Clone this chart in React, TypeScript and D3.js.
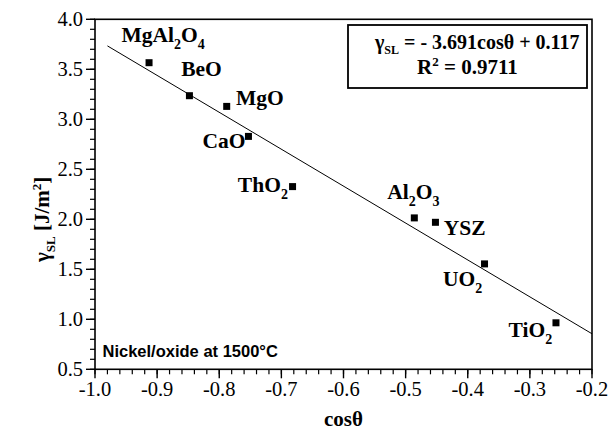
import React from "react";
import * as d3 from "d3";

const materials = ["MgAl2O4", "BeO", "MgO", "CaO", "ThO2", "Al2O3", "YSZ", "UO2", "TiO2"];
const cosTheta = [-0.913, -0.848, -0.788, -0.753, -0.682, -0.486, -0.452, -0.373, -0.258];
const gammaSL = [3.566, 3.236, 3.129, 2.829, 2.327, 2.014, 1.97, 1.554, 0.965];

const xTicks = [-1.0, -0.9, -0.8, -0.7, -0.6, -0.5, -0.4, -0.3, -0.2];
const yTicks = [0.5, 1.0, 1.5, 2.0, 2.5, 3.0, 3.5, 4.0];

const fitSlope = -3.691;
const fitIntercept = 0.117;
const fitRange = [-0.98, -0.2];

// label layout: offsets from the point (dx, dy baseline), anchor
const labelLayout: Record<string, { dx: number; dy: number; anchor: string }> = {
  MgAl2O4: { dx: -27.6, dy: -20.3, anchor: "start" },
  BeO: { dx: -8.3, dy: -19.3, anchor: "start" },
  MgO: { dx: 9.3, dy: -1.7, anchor: "start" },
  CaO: { dx: -3, dy: 11.6, anchor: "end" },
  ThO2: { dx: -54.7, dy: 5.7, anchor: "start" },
  Al2O3: { dx: -27, dy: -19, anchor: "start" },
  YSZ: { dx: 8.3, dy: 12.3, anchor: "start" },
  UO2: { dx: -41.6, dy: 21.7, anchor: "start" },
  TiO2: { dx: -47.4, dy: 13.7, anchor: "start" },
};

const SERIF = "'Liberation Serif', 'Times New Roman', serif";
const SANS = "'Liberation Sans', Arial, sans-serif";

function Chem({ name, x, y, anchor }: { name: string; x: number; y: number; anchor: string }) {
  const parts = name.match(/[A-Za-z]+|\d+/g) || [];
  const children: any[] = [];
  let sub = false;
  parts.forEach((p, i) => {
    if (/\d/.test(p)) {
      children.push(
        <tspan key={i} dy={sub ? 0 : 7} fontSize={14}>
          {p}
        </tspan>
      );
      sub = true;
    } else {
      children.push(
        <tspan key={i} dy={sub ? -7 : 0}>
          {p}
        </tspan>
      );
      sub = false;
    }
  });
  return (
    <text x={x} y={y} textAnchor={anchor as any} fontFamily={SERIF} fontWeight="bold" fontSize={21.5} fill="#000">
      {children}
    </text>
  );
}

export default function App() {
  const left = 95, right = 592, top = 19.3, bottom = 369.3;
  const x = d3.scaleLinear().domain([-1.0, -0.2]).range([left, right]);
  const y = d3.scaleLinear().domain([0.5, 4.0]).range([bottom, top]);

  const xMinor = d3.range(0, 41).map((i) => -1.0 + i * 0.02);
  const yMinor = d3.range(0, 36).map((i) => 0.5 + i * 0.1);

  const line = d3
    .line<number>()
    .x((d) => x(d))
    .y((d) => y(fitSlope * d + fitIntercept));

  return (
    <svg width={612} height={435} style={{ position: "absolute", left: 0, top: 0, background: "#fff" }}>
      <rect x={0} y={0} width={612} height={435} fill="#fff" />
      {/* frame */}
      <rect x={left} y={top} width={right - left} height={bottom - top} fill="none" stroke="#000" strokeWidth={1.6} />

      {/* x ticks */}
      {xMinor.map((v, i) => (
        <line key={"xm" + i} x1={x(v)} x2={x(v)} y1={bottom} y2={bottom + 5} stroke="#000" strokeWidth={1.2} />
      ))}
      {xTicks.map((v, i) => (
        <g key={"xt" + i}>
          <line x1={x(v)} x2={x(v)} y1={bottom} y2={bottom + 9} stroke="#000" strokeWidth={1.4} />
          <text x={x(v)} y={bottom + 27} textAnchor="middle" fontFamily={SERIF} fontSize={20.5} fill="#000">
            {d3.format(".1f")(v).replace("−", "-")}
          </text>
        </g>
      ))}

      {/* y ticks */}
      {yMinor.map((v, i) => (
        <line key={"ym" + i} x1={left - 5} x2={left} y1={y(v)} y2={y(v)} stroke="#000" strokeWidth={1.2} />
      ))}
      {yTicks.map((v, i) => (
        <g key={"yt" + i}>
          <line x1={left - 9} x2={left} y1={y(v)} y2={y(v)} stroke="#000" strokeWidth={1.4} />
          <text x={left - 12} y={y(v) + 7} textAnchor="end" fontFamily={SERIF} fontSize={20.5} fill="#000">
            {d3.format(".1f")(v)}
          </text>
        </g>
      ))}

      {/* fit line */}
      <path d={line(fitRange) || ""} fill="none" stroke="#000" strokeWidth={1} />

      {/* points */}
      {materials.map((m, i) => (
        <rect key={"p" + i} x={x(cosTheta[i]) - 3.5} y={y(gammaSL[i]) - 3.5} width={7} height={7} fill="#000" />
      ))}

      {/* labels */}
      {materials.map((m, i) => {
        const L = labelLayout[m];
        return <Chem key={"l" + i} name={m} x={x(cosTheta[i]) + L.dx} y={y(gammaSL[i]) + L.dy} anchor={L.anchor} />;
      })}

      {/* equation box */}
      <rect x={348} y={25} width={239} height={63} fill="#fff" stroke="#000" strokeWidth={1.8} />
      <text x={375} y={48.5} fontFamily={SERIF} fontWeight="bold" fontSize={20} fill="#000">
        <tspan>γ</tspan>
        <tspan dy={5} fontSize={12}>SL</tspan>
        <tspan dy={-5}> = - 3.691cosθ + 0.117</tspan>
      </text>
      <text x={417} y={73.5} fontFamily={SERIF} fontWeight="bold" fontSize={21} fill="#000">
        <tspan>R</tspan>
        <tspan dy={-8} fontSize={13}>2</tspan>
        <tspan dy={8}> = 0.9711</tspan>
      </text>

      {/* annotation */}
      <text x={102.5} y={356.5} fontFamily={SANS} fontWeight="bold" fontSize={16.5} fill="#000">
        Nickel/oxide at 1500°C
      </text>

      {/* axis titles */}
      <text x={(left + right) / 2} y={426} textAnchor="middle" fontFamily={SERIF} fontWeight="bold" fontSize={21} fill="#000">
        cosθ
      </text>
      <text
        transform="translate(49, 262) rotate(-90)"
        textAnchor="start"
        fontFamily={SERIF}
        fontWeight="bold"
        fontSize={21}
        fill="#000"
      >
        <tspan>γ</tspan>
        <tspan dy={6} fontSize={13}>SL</tspan>
        <tspan dy={-6}> [J/m</tspan>
        <tspan dy={-8} fontSize={13}>2</tspan>
        <tspan dy={8}>]</tspan>
      </text>
    </svg>
  );
}
